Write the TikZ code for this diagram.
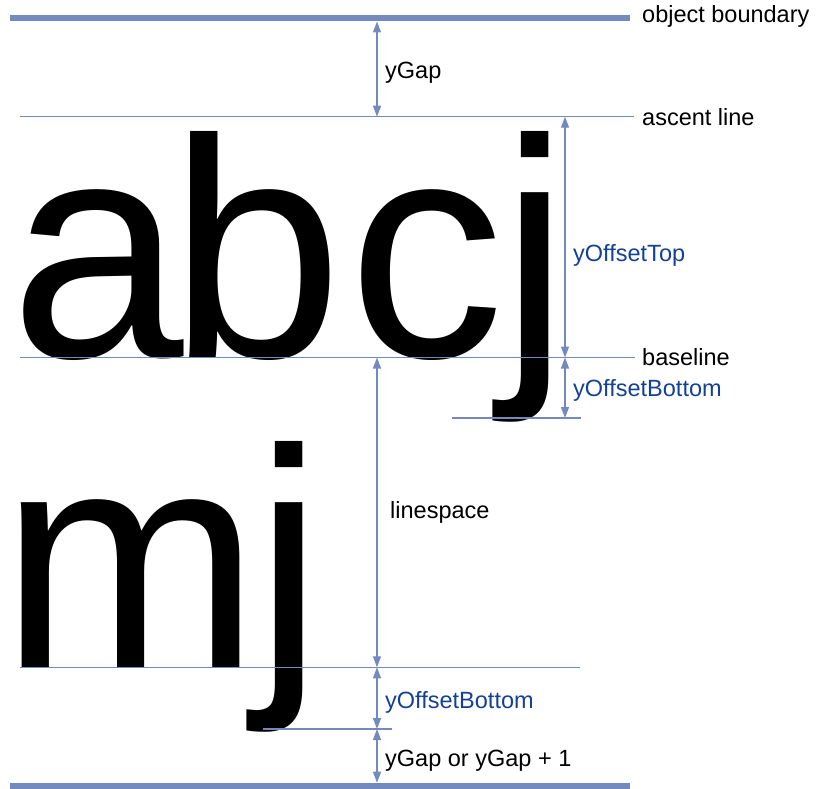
\documentclass[tikz,border=0pt]{standalone}
\usepackage{fontspec}
\setmainfont{Liberation Sans}
\usetikzlibrary{arrows.meta}
\definecolor{linecol}{RGB}{115,138,190}
\definecolor{labblue}{RGB}{20,65,150}
\begin{document}
\begin{tikzpicture}[x=1pt,y=-1pt,
  guide/.style={draw=linecol, line width=1.3pt},
  boundary/.style={draw=linecol, line width=6.5pt},
  dim/.style={draw=linecol, line width=1.3pt, {Triangle[length=11pt,width=8pt]}-{Triangle[length=11pt,width=8pt]}},
  lab/.style={anchor=base west, inner sep=0pt, font=\fontsize{23.5}{28}\selectfont},
  bluelab/.style={lab, text=labblue},
  glyph/.style={anchor=base west, inner sep=0pt, font=\fontsize{312}{312}\selectfont}]
\useasboundingbox (0,0) rectangle (816,789);
% glyphs
\node[glyph] (ga) at (10,357.3) {a};
\node[glyph] (gb) at (169,357.3) {b};
\node[glyph] (gc) at (348,357.3) {c};
\node[glyph] (gj) at (500,357.3) {j};
\node[glyph] (gm) at (0.4,667.3) {m};
\node[glyph] (gjb) at (254,667.3) {j};
% coordinates
\coordinate (tbl) at (10,18);   \coordinate (tbr) at (630,18);
\coordinate (asl) at (20,116.7); \coordinate (asr) at (634,116.7);
\coordinate (bl1) at (20,357.5); \coordinate (br1) at (635,357.5);
\coordinate (dl1) at (452,418);  \coordinate (dr1) at (581,418);
\coordinate (bl2) at (20,667.3); \coordinate (br2) at (580,667.3);
\coordinate (dl2) at (263,729);  \coordinate (dr2) at (392,729);
\coordinate (bbl) at (10,786);   \coordinate (bbr) at (630,786);
% lines
\draw[boundary] (tbl) -- (tbr);
\draw[guide] (asl) -- (asr);
\draw[guide] (bl1) -- (br1);
\draw[guide] (dl1) -- (dr1);
\draw[guide] (bl2) -- (br2);
\draw[guide] (dl2) -- (dr2);
\draw[boundary] (bbl) -- (bbr);
% dimension arrows
\coordinate (a1t) at (377,21.5);  \coordinate (a1b) at (377,116.7);
\coordinate (a2t) at (565,116.7); \coordinate (a2b) at (565,357.5);
\coordinate (a3t) at (565,357.5); \coordinate (a3b) at (565,418);
\coordinate (a4t) at (377,357.5); \coordinate (a4b) at (377,667.3);
\coordinate (a5t) at (377,667.3); \coordinate (a5b) at (377,729);
\coordinate (a6t) at (377,729);   \coordinate (a6b) at (377,782.7);
\draw[dim] (a1t) -- (a1b);
\draw[dim] (a2t) -- (a2b);
\draw[dim] (a3t) -- (a3b);
\draw[dim] (a4t) -- (a4b);
\draw[dim] (a5t) -- (a5b);
\draw[dim] (a6t) -- (a6b);
% labels
\node[lab] (lob) at (642,23) {object boundary};
\node[lab] (lasc) at (642,125) {ascent line};
\node[lab] (lbase) at (642,365) {baseline};
\node[lab] (lgap) at (385,79) {yGap};
\node[bluelab] (ltop) at (573,261) {yOffsetTop};
\node[bluelab] (lbot1) at (573,396) {yOffsetBottom};
\node[lab] (lls) at (390,518) {linespace};
\node[bluelab] (lbot2) at (385,708) {yOffsetBottom};
\node[lab] (lgap2) at (385,766) {yGap or yGap + 1};
\end{tikzpicture}
\end{document}
